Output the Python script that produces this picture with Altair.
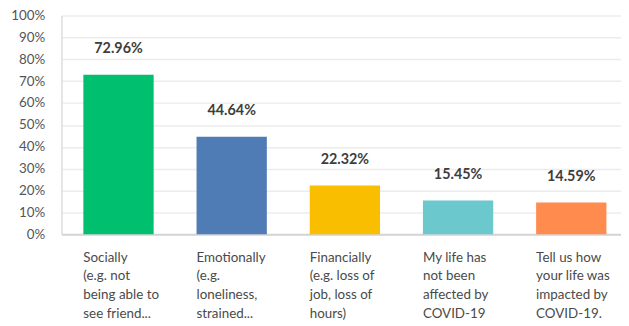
import altair as alt
import pandas as pd

categories = [
    "Socially\n(e.g. not\nbeing able to\nsee friend...",
    "Emotionally\n(e.g.\nloneliness,\nstrained...",
    "Financially\n(e.g. loss of\njob, loss of\nhours)",
    "My life has\nnot been\naffected by\nCOVID-19",
    "Tell us how\nyour life was\nimpacted by\nCOVID-19.",
]
values = [72.96, 44.64, 22.32, 15.45, 14.59]
colors = ["#00BF6F", "#507CB6", "#F9BE00", "#6BC8CD", "#FF8B4F"]
y_ticks = [0, 10, 20, 30, 40, 50, 60, 70, 80, 90, 100]

df = pd.DataFrame({"cat": categories, "val": values, "color": colors,
                   "lbl": [f"{v:.2f}%" for v in values]})

x = alt.X("cat:N", sort=categories, title=None,
          scale=alt.Scale(paddingInner=0.379, paddingOuter=0.161, align=0.6),
          axis=alt.Axis(labelAngle=0, labelAlign="left", labelBaseline="top",
                        labelOffset=-35.5, labelPadding=16, ticks=False,
                        labelExpr="split(datum.label, '\\n')",
                        labelLineHeight=19, labelFontSize=13.5, labelFont="Lato",
                        labelColor="#4a4a4a", domainColor="#d4d4d4", domainWidth=2,
                        labelLimit=200, labelOverlap=False))
y = alt.Y("val:Q", title=None,
          scale=alt.Scale(domain=[0, 100]),
          axis=alt.Axis(values=y_ticks, labelExpr="datum.value + '%'",
                        ticks=False, labelPadding=17, labelFontSize=13.5, labelFont="Lato",
                        labelColor="#555555", gridColor="#ececec", gridWidth=1.5,
                        domainColor="#dddddd", domainWidth=1.5, labelOverlap=False))

base = alt.Chart(df).encode(x=x, y=y)
bars = base.mark_bar().encode(color=alt.Color("color:N", scale=None))
text = base.mark_text(dy=-19, fontSize=14.5, fontWeight="bold", font="Lato",
                      color="#3d3d3d", baseline="bottom").encode(text="lbl:N")

chart = (bars + text).properties(
    width=565, height=221,
    autosize=alt.AutoSizeParams(type="none"),
    padding={"left": 54, "top": 6, "right": 0, "bottom": 90},
).configure_view(stroke=None)

chart.save("out.html", embed_options={"renderer": "svg", "actions": False})
